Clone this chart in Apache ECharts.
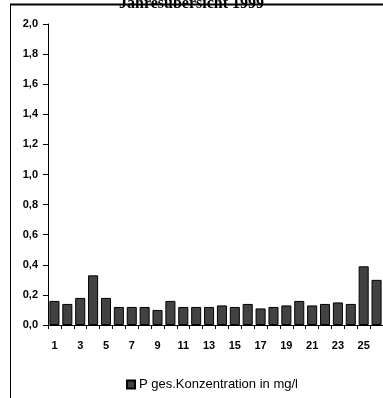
<!DOCTYPE html>
<html>
<head>
<meta charset="utf-8">
<style>
  html, body { margin: 0; padding: 0; background: #fff; }
  #chart { width: 383px; height: 398px; }
</style>
<script src="https://cdn.jsdelivr.net/npm/echarts@6/dist/echarts.min.js"></script>
</head>
<body>
<div id="chart"></div>
<script>
// Sampling points 1..26 of the year
const categories = ['1','2','3','4','5','6','7','8','9','10','11','12','13',
  '14','15','16','17','18','19','20','21','22','23','24','25','26'];
// Total phosphorus concentration (mg/l)
const pConcentration = [0.16, 0.14, 0.18, 0.33, 0.18, 0.12, 0.12, 0.12, 0.10, 0.16,
  0.12, 0.12, 0.12, 0.13, 0.12, 0.14, 0.11, 0.12, 0.13, 0.16,
  0.13, 0.14, 0.15, 0.14, 0.39, 0.30];
const seriesName = 'P ges.Konzentration in mg/l';
const titleText = 'Jahresübersicht 1999';

const chart = echarts.init(document.getElementById('chart'), null, { renderer: 'canvas' });

chart.setOption({
  animation: false,
  backgroundColor: '#fff',
  title: {
    text: titleText,
    left: 'center',
    top: -9,
    textStyle: {
      fontFamily: 'Liberation Serif',
      fontWeight: 'bold',
      fontSize: 16,
      color: '#000'
    }
  },
  // outer frame of the chart area
  graphic: [
    {
      type: 'line',
      z: 100,
      shape: { x1: 10, y1: 4.5, x2: 400, y2: 4.5 },
      style: { stroke: '#000', lineWidth: 2 }
    },
    {
      type: 'line',
      z: 100,
      shape: { x1: 10.5, y1: 4, x2: 10.5, y2: 400 },
      style: { stroke: '#000', lineWidth: 1 }
    }
  ],
  legend: {
    data: [seriesName],
    bottom: 2,
    left: 121,
    itemWidth: 8,
    itemHeight: 8,
    itemGap: 4,
    icon: 'rect',
    textStyle: {
      fontFamily: 'Liberation Sans',
      fontSize: 13,
      color: '#000',
      padding: [0, 0, 0, -1]
    }
  },
  grid: {
    left: 48,
    right: -2,
    top: 24,
    bottom: 73,
    containLabel: false
  },
  xAxis: {
    type: 'category',
    data: categories,
    boundaryGap: true,
    axisLine: { lineStyle: { color: '#000', width: 1 } },
    axisTick: { show: true, interval: 0, length: 4, lineStyle: { color: '#000' } },
    axisLabel: {
      interval: 1,
      margin: 15,
      fontFamily: 'Liberation Sans',
      fontWeight: 'bold',
      fontSize: 11,
      color: '#000'
    },
    splitLine: { show: false }
  },
  yAxis: {
    type: 'value',
    min: 0,
    max: 2,
    interval: 0.2,
    axisLine: { show: true, lineStyle: { color: '#000', width: 1 } },
    axisTick: { show: true, length: 5, lineStyle: { color: '#000' } },
    axisLabel: {
      margin: 10,
      fontFamily: 'Liberation Sans',
      fontWeight: 'bold',
      fontSize: 11,
      color: '#000',
      formatter: v => v.toFixed(1).replace('.', ',')
    },
    splitLine: { show: false }
  },
  series: [{
    name: seriesName,
    type: 'bar',
    data: pConcentration,
    barCategoryGap: '22%',
    itemStyle: {
      color: '#424242',
      borderColor: '#000',
      borderWidth: 1
    }
  }]
});
</script>
</body>
</html>
